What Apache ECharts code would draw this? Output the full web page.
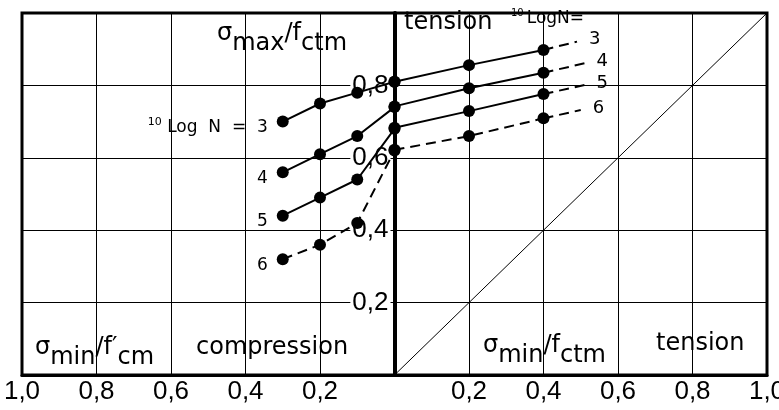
<!DOCTYPE html>
<html lang="en">
<head>
  <meta charset="UTF-8">
  <title>Fatigue: sigma max / fctm</title>
  <script src="https://cdn.jsdelivr.net/npm/echarts@6/dist/echarts.min.js"></script>
  <style>
    html, body, #main { margin: 0; padding: 0; width: 779px; height: 410px; background: #fff; }
  </style>
</head>
<body>
  <div id="main"></div>
  <script>
    // compression side (sigma_min / f'cm, drawn at negative x)
    const compX = [-0.3, -0.2, -0.1, 0];
    const compN3 = [0.70, 0.75, 0.78, 0.81];
    const compN4 = [0.56, 0.61, 0.66, 0.74];
    const compN5 = [0.44, 0.49, 0.54, 0.68];
    const compN6 = [0.32, 0.36, 0.42, 0.62];

    // tension side (sigma_min / fctm)
    const tensX = [0, 0.2, 0.4];
    const tensN3 = [0.81, 0.856, 0.898];
    const tensN4 = [0.742, 0.792, 0.835];
    const tensN5 = [0.683, 0.729, 0.776];
    const tensN6 = [0.622, 0.66, 0.709];

    // dashed extrapolation beyond 0,4
    const extEndX = [0.49, 0.51, 0.51, 0.50];
    const extEndY = [0.921, 0.861, 0.801, 0.732];

    const logN = ['3', '4', '5', '6'];
    const diagonal = [[0, 0], [1, 1]];

    const TXT = '"DejaVu Sans", sans-serif';
    const NUM = '"Liberation Sans Narrow", "Liberation Sans", sans-serif';
    const dash = [10, 6];
    const fmtNum = v => v.toFixed(1).replace('.', ',');

    const compSets = [compN3, compN4, compN5, compN6];
    const tensSets = [tensN3, tensN4, tensN5, tensN6];

    const series = [];

    series.push({
      type: 'line', data: diagonal, symbol: 'none', silent: true,
      lineStyle: { color: '#000', width: 1 }
    });

    compSets.forEach((ys, k) => {
      series.push({
        type: 'line',
        data: compX.map((x, i) => [x, ys[i]]),
        symbol: 'circle', symbolSize: 12,
        itemStyle: { color: '#000' },
        lineStyle: { color: '#000', width: 2, type: k === 3 ? dash : 'solid' },
        label: {
          show: true, position: 'left', distance: 9, offset: [0, 6],
          color: '#000', fontFamily: TXT, fontSize: 17,
          formatter: p => p.dataIndex !== 0 ? '' :
            (k === 0 ? '{sup|10} {m|Log  N  =  3}' : logN[k]),
          rich: {
            sup: { fontSize: 11, fontFamily: TXT, verticalAlign: 'top', lineHeight: 12, color: '#000' },
            m: { fontSize: 17, fontFamily: TXT, lineHeight: 22, color: '#000' }
          }
        }
      });
    });

    tensSets.forEach((ys, k) => {
      series.push({
        type: 'line',
        data: tensX.map((x, i) => [x, ys[i]]),
        symbol: 'circle', symbolSize: 12,
        itemStyle: { color: '#000' },
        lineStyle: { color: '#000', width: 2, type: k === 3 ? dash : 'solid' }
      });
      series.push({
        type: 'line',
        data: [[tensX[2], ys[2]], [extEndX[k], extEndY[k]]],
        symbol: 'none',
        lineStyle: { color: '#000', width: 2, type: dash },
        endLabel: {
          show: true, formatter: logN[k], distance: 12, offset: [0, -2],
          color: '#000', fontFamily: TXT, fontSize: 18
        }
      });
    });

    const chart = echarts.init(document.getElementById('main'));
    chart.setOption({
      animation: false,
      backgroundColor: '#fff',
      grid: {
        left: 22, right: 12, top: 13, bottom: 35,
        containLabel: false, outerBoundsMode: 'none',
        show: true, borderColor: '#000', borderWidth: 3
      },
      xAxis: {
        type: 'value', min: -1, max: 1, interval: 0.2,
        axisLine: { onZero: true, lineStyle: { color: '#000', width: 3 } },
        axisTick: { show: false },
        splitLine: { lineStyle: { color: '#000', width: 1 } },
        axisLabel: {
          color: '#000', fontFamily: NUM, fontSize: 26, margin: 4,
          showMinLabel: true, showMaxLabel: true, hideOverlap: false,
          formatter: v => Math.abs(v) < 1e-9 ? '' : fmtNum(Math.abs(v))
        }
      },
      yAxis: {
        type: 'value', min: 0, max: 1, interval: 0.2, z: 3,
        position: 'left', offset: -372.5, // sits on x = 0, in the middle
        axisLine: { onZero: false, lineStyle: { color: '#000', width: 4 } },
        axisTick: { show: false },
        splitLine: { lineStyle: { color: '#000', width: 1 } },
        axisLabel: {
          color: '#000', fontFamily: NUM, fontSize: 26, margin: 4,
          backgroundColor: '#fff', padding: [0, 2],
          formatter: v => (v < 1e-9 || v > 0.999) ? '' : fmtNum(v)
        }
      },
      graphic: [
        {
          type: 'text', left: 217, top: 22, z: 10,
          style: {
            text: '{m|σ}{s|max}{m|/f}{s|ctm}', fill: '#000',
            rich: {
              m: { fontFamily: TXT, fontSize: 24, lineHeight: 22, verticalAlign: 'top', fill: '#000' },
              s: { fontFamily: TXT, fontSize: 24, lineHeight: 34, verticalAlign: 'bottom', fill: '#000' }
            }
          }
        },
        {
          type: 'text', left: 404, top: 11, z: 10,
          style: { text: 'tension', fill: '#000', font: '24px "DejaVu Sans"' }
        },
        {
          type: 'text', left: 511, top: 8, z: 10,
          style: {
            text: '{sup|10}{m|LogN=}', fill: '#000',
            rich: {
              sup: { fontFamily: TXT, fontSize: 10, lineHeight: 10, verticalAlign: 'top', padding: [0, 3, 0, 0], fill: '#000' },
              m: { fontFamily: TXT, fontSize: 17, lineHeight: 22, fill: '#000' }
            }
          }
        },
        {
          type: 'text', left: 35, top: 336, z: 10,
          style: {
            text: '{m|σ}{s|min}{m|/f′}{s|cm}', fill: '#000',
            rich: {
              m: { fontFamily: TXT, fontSize: 24, lineHeight: 22, verticalAlign: 'top', fill: '#000' },
              s: { fontFamily: TXT, fontSize: 24, lineHeight: 34, verticalAlign: 'bottom', fill: '#000' }
            }
          }
        },
        {
          type: 'text', left: 196, top: 336, z: 10,
          style: { text: 'compression', fill: '#000', font: '24px "DejaVu Sans"' }
        },
        {
          type: 'text', left: 483, top: 334, z: 10,
          style: {
            text: '{m|σ}{s|min}{m|/f}{s|ctm}', fill: '#000',
            rich: {
              m: { fontFamily: TXT, fontSize: 24, lineHeight: 22, verticalAlign: 'top', fill: '#000' },
              s: { fontFamily: TXT, fontSize: 24, lineHeight: 34, verticalAlign: 'bottom', fill: '#000' }
            }
          }
        },
        {
          type: 'text', left: 656, top: 332, z: 10,
          style: { text: 'tension', fill: '#000', font: '24px "DejaVu Sans"' }
        }
      ],
      series: series
    });
  </script>
</body>
</html>
